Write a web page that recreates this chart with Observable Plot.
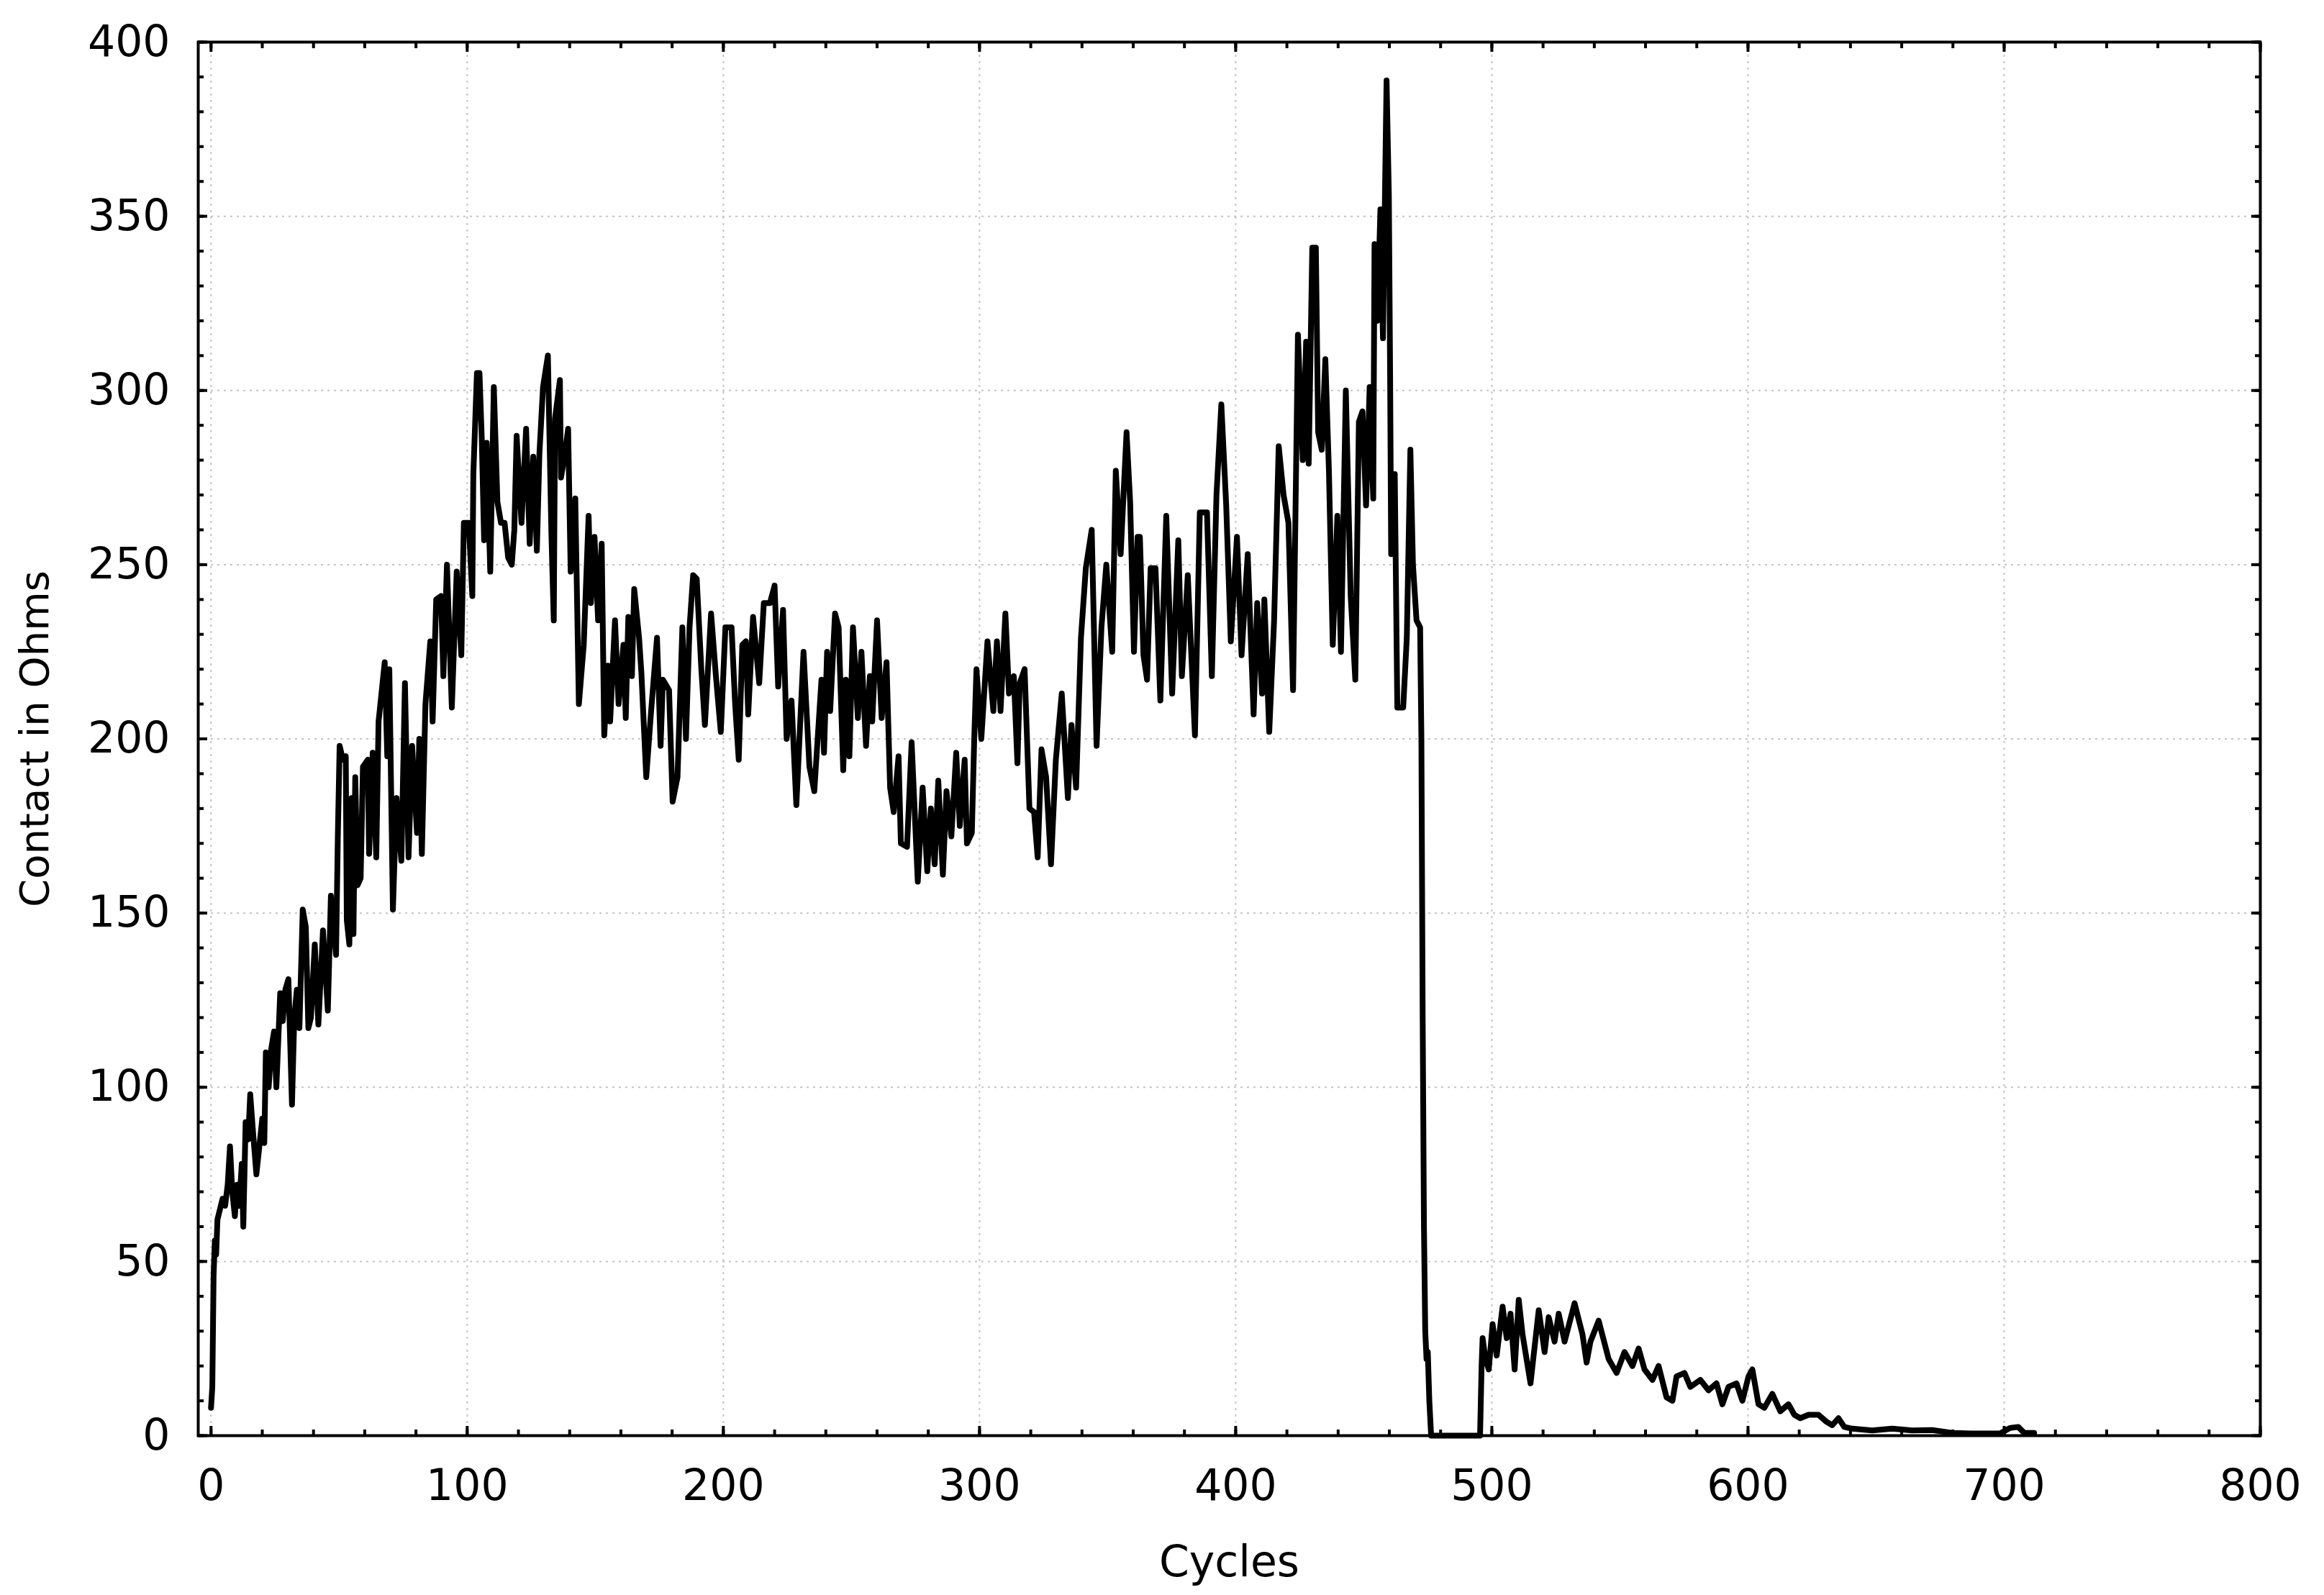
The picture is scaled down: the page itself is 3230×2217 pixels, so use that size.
<!DOCTYPE html>
<html><head><meta charset="utf-8">
<script src="https://cdn.jsdelivr.net/npm/d3@7"></script>
<script src="https://cdn.jsdelivr.net/npm/@observablehq/plot@0.6"></script>
<style>
html,body{margin:0;padding:0;background:#fff;}
#chart svg{display:block;}
</style></head><body><div id="chart"></div>
<script>
// Cycle positions (x) and contact resistance in ohms (y)
const cycles = [
0,0.5,1,1.5,2,2.5,3.5,4.5,5.5,6.5,7.4,8.3,9.3,10.2,11,12,12.6,13.5,14.5,15.3,16.3,17.7,19,20,20.8,21.4,22.5,23.5,24.6,25.5,27,28,29,30.2,31.6,32.5,33.5,34.5,35.8,37,38,39,40.5,41.9,43.7,45.6,46.8,48.8,49.5,50.2,51.5,52.6,53,54,54.9,55.6,56.3,57.2,58.4,59.3,61.2,61.7,63.1,64.5,65.4,67.8,68.8,69.6,71,72.4,74.3,75.7,77.1,78.5,80.4,81.3,82.3,83.7,85.6,86.5,87.9,89.8,90.7,92.1,94,95.9,97.7,98.7,100.6,102,102.4,103.8,104.8,105.7,106.6,107.6,109,110.4,111.8,113.2,114.6,116,117.4,118.4,119.3,121.2,123,124.4,125.8,127.2,128.2,129.6,131.5,132.9,133.8,134.3,136.2,136.6,138,139.4,140.4,142.2,143.6,145.5,147.4,148.3,149.7,151.1,152.5,153.5,154.9,155.8,157.7,159.1,161,161.9,162.9,164.3,165.2,167.1,168,169.9,171.8,174.1,175.5,176.4,178.8,180.2,182.1,184,185.4,186.8,188.2,189.6,191.4,192.8,195.2,197.1,199,200.8,203.2,204.6,206,207.4,208.8,209.7,211.6,214,215.8,218.2,220,221.4,223.3,224.7,226.6,228.5,231.3,233.6,235.5,238.3,239.3,240.5,241.7,243.6,245,246.8,247.8,249.2,250.6,252.5,253.9,255.7,257.2,258.1,260,261.8,263.7,265.1,266.5,268.4,269.3,271.7,273.5,275.9,277.8,279.6,281,282.5,283.9,285.7,287.1,289,290.9,292.3,294.2,295.1,297,297.9,298.8,300.7,303.1,305.4,306.8,308.2,310.1,311.5,313.4,314.8,315.7,317.6,319.5,321.3,322.7,324.2,326,327.9,329.8,332.1,334.5,335.9,337.7,339.6,341.5,343.8,345.7,347.6,349.5,351.8,353.2,355.1,357.4,358.8,360.3,361.7,362.6,364,365.4,366.8,368.7,370.6,372.9,375.2,377.6,379,381.3,384.1,386,388.8,390.7,392.5,394.4,396.3,398.1,400.5,402.3,404.7,407,408.4,410.3,411.2,413.1,415,416.8,418.7,420.6,422.4,424.3,426.2,427.5,428.5,429.9,431.3,432.2,433.6,435,436.4,437.9,439.7,441.1,443,444.9,446.7,448.1,449.5,450.9,452.3,453.7,454.2,455.3,456.5,457.5,458.9,459.8,460.3,460.7,462.1,463.1,465.4,466.8,468.2,469.2,470.6,472,472.5,473,473.5,474,474.5,475,475.6,476.3,495.4,496,496.4,497.5,498.8,500.3,501.9,504.2,505.8,507.3,508.9,510.5,512,515.1,518.3,520.6,522.2,524.5,526.1,528.4,532.3,535.4,537,538.5,541.7,545.6,548.7,551.8,554.9,557.3,559.6,562.7,565.1,568.2,570.5,572.1,575.2,577.5,581.4,584.6,587.7,590,592.4,595.5,597.8,600.2,601.7,604.1,606.4,609.5,612.6,615.8,618.1,620.4,623.6,627.5,630.6,632.9,635.3,637.6,640.7,648.5,656.3,664.1,671.9,679.7,687.5,698.4,702.3,705.5,707.8,711.7
];
const ohms = [
8,14,46,56,52,62,65,68,66,72,83,70,63,72,66,78,60,90,85,98,88,75,84,91,84,110,100,111,116,100,127,119,128,131,95,120,128,117,151,146,117,120,141,118,145,122,155,138,172,198,194,195,148,141,183,144,189,158,160,192,194,167,196,166,205,222,195,220,151,183,165,216,166,198,173,200,167,210,228,205,240,241,218,250,209,248,224,262,262,241,276,305,305,286,257,285,248,301,268,262,262,252,250,260,287,262,289,256,281,254,282,301,310,258,234,292,303,275,281,289,248,269,210,227,264,239,258,234,256,201,221,205,234,210,227,206,235,218,243,229,219,189,208,229,198,217,214,182,189,232,200,232,247,246,220,204,236,218,202,232,232,210,194,227,228,207,235,216,239,239,244,215,237,200,211,181,225,192,185,217,196,225,208,236,232,191,217,195,232,206,225,198,218,205,234,206,222,186,179,195,170,169,199,159,186,162,180,164,188,161,185,172,196,175,194,170,173,199,220,200,228,208,228,208,236,213,218,193,216,220,180,179,166,197,189,164,194,213,183,204,186,229,249,260,198,232,250,225,277,253,288,268,225,258,258,224,217,249,249,211,264,213,257,218,247,201,265,265,218,270,296,267,228,258,224,253,207,239,213,240,202,234,284,270,262,214,316,280,314,279,341,341,288,283,309,277,227,264,225,300,241,217,291,294,267,301,269,342,320,352,315,389,356,303,253,276,209,209,229,283,250,234,232,200,120,60,30,22,24,10,0,0,20,28,22,19,32,23,37,28,35,19,39,29,15,36,24,34,27,35,27,38,29,21,27,33,22,18,24,20,25,19,16,20,11,10,17,18,14,16,13,15,9,14,15,10,17,19,9,8,12,7,9,6,5,6,6,4,3,5,2.5,2,1.5,2,1.5,1.6,0.8,0.6,0.6,2.2,2.5,0.8,0.8
];
const xMajorTicks = [0,100,200,300,400,500,600,700,800];
const xMinorTicks = [0,20,40,60,80,100,120,140,160,180,200,220,240,260,280,300,320,340,360,380,400,420,440,460,480,500,520,540,560,580,600,620,640,660,680,700,720,740,760,780,800];
const yMajorTicks = [0,50,100,150,200,250,300,350,400];
const yMinorTicks = [0,10,20,30,40,50,60,70,80,90,100,110,120,130,140,150,160,170,180,190,200,210,220,230,240,250,260,270,280,290,300,310,320,330,340,350,360,370,380,390,400];
const xLabel = "Cycles";
const yLabel = "Contact in Ohms";

const data = cycles.map((c, i) => ({cycle: c, ohms: ohms[i]}));
const font = "'DejaVu Sans', 'Liberation Sans', Arial, sans-serif";
const gridStyle = {stroke: "#c4c4c4", strokeOpacity: 1, strokeWidth: 2, strokeDasharray: "3,6"};
const tickStyle = {stroke: "#000", strokeWidth: 4, fill: "none", label: null};

const chart = Plot.plot({
  width: 3230,
  height: 2217,
  marginLeft: 275,
  marginRight: 89,
  marginTop: 58,
  marginBottom: 222,
  style: {fontFamily: font, fontSize: "60px", background: "#fff", color: "#000"},
  x: {domain: [-5, 800]},
  y: {domain: [0, 400]},
  marks: [
    Plot.gridX({ticks: xMajorTicks.slice(0, -1), ...gridStyle}),
    Plot.gridY({ticks: yMajorTicks.slice(1, -1), ...gridStyle}),
    Plot.line(data, {x: "cycle", y: "ohms", stroke: "#000", strokeWidth: 8, strokeLinejoin: "round", strokeLinecap: "round"}),
    // inward minor ticks
    Plot.axisX({ticks: xMinorTicks, anchor: "bottom", tickSize: -8, ...tickStyle}),
    Plot.axisX({ticks: xMinorTicks, anchor: "top", tickSize: -8, ...tickStyle}),
    Plot.axisY({ticks: yMinorTicks, anchor: "left", tickSize: -8, ...tickStyle}),
    Plot.axisY({ticks: yMinorTicks, anchor: "right", tickSize: -8, ...tickStyle}),
    // inward major ticks
    Plot.axisX({ticks: xMajorTicks, anchor: "bottom", tickSize: -13, ...tickStyle}),
    Plot.axisX({ticks: xMajorTicks, anchor: "top", tickSize: -13, ...tickStyle}),
    Plot.axisY({ticks: yMajorTicks, anchor: "left", tickSize: -13, ...tickStyle}),
    Plot.axisY({ticks: yMajorTicks, anchor: "right", tickSize: -13, ...tickStyle}),
    // tick labels
    Plot.axisX({ticks: xMajorTicks, anchor: "bottom", tickSize: 0, tickPadding: 47, fill: "#000", label: null}),
    Plot.axisY({ticks: yMajorTicks, anchor: "left", tickSize: 0, tickPadding: 39, fill: "#000", label: null}),
    // axis titles
    Plot.text([xLabel], {text: d => d, frameAnchor: "bottom", dy: 195, lineAnchor: "bottom", fontSize: 60, fill: "#000"}),
    Plot.text([yLabel], {text: d => d, frameAnchor: "left", dx: -248, rotate: -90, lineAnchor: "top", textAnchor: "middle", fontSize: 56, fill: "#000"}),
    Plot.frame({stroke: "#000", strokeWidth: 4})
  ]
});
document.getElementById("chart").appendChild(chart);
</script>
</body></html>
